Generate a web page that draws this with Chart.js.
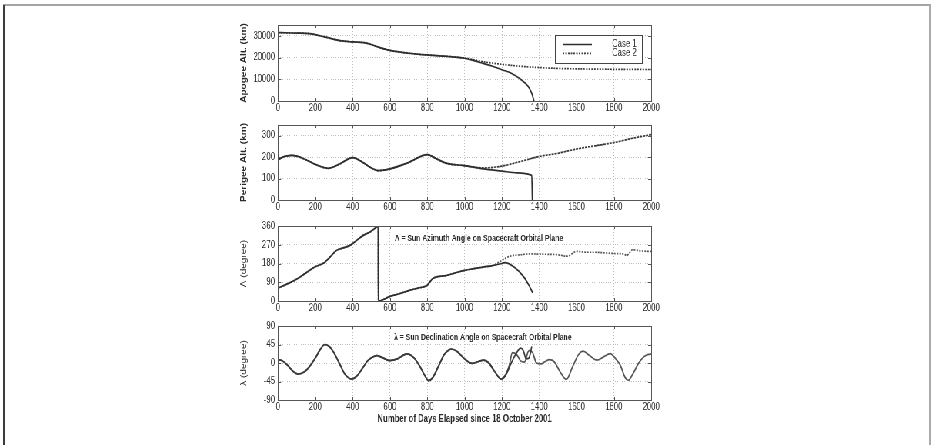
<!DOCTYPE html>
<html>
<head>
<meta charset="utf-8">
<script src="https://cdn.jsdelivr.net/npm/chart.js@4.4.1/dist/chart.umd.min.js"></script>
<style>
  html, body { margin: 0; padding: 0; background: #fff; width: 935px; height: 445px; overflow: hidden; position: relative; }
  .edge { position: absolute; }
  #edgeTop { left: 3px; top: 4px; width: 928px; height: 2px; background: #a4a4a4; }
  #edgeLeft { left: 3px; top: 5px; width: 2px; height: 440px; background: #3c3c3c; }
  #edgeRight { left: 929px; top: 5px; width: 2px; height: 440px; background: #ababab; }
  /* the figure is drawn slightly condensed horizontally */
  #panels { position: absolute; left: 230px; top: 0; width: 570px; height: 445px; transform: scaleX(0.77); transform-origin: 0 0; }
  #panels canvas { position: absolute; left: 0; }
</style>
</head>
<body>
<div class="edge" id="edgeTop"></div>
<div class="edge" id="edgeLeft"></div>
<div class="edge" id="edgeRight"></div>
<div id="panels">
  <canvas id="apogeeChart" width="570" height="100" style="top:15px"></canvas>
  <canvas id="perigeeChart" width="570" height="100" style="top:115px"></canvas>
  <canvas id="azimuthChart" width="570" height="100" style="top:215px"></canvas>
  <canvas id="declinationChart" width="570" height="115" style="top:315px"></canvas>
</div>
<script>
// ---- Day axis ----
const dayTicks = [0, 200, 400, 600, 800, 1000, 1200, 1400, 1600, 1800, 2000];

// ---- Apogee altitude (km): shared history, then the two cases ----
const apogeeTicks = [0, 10000, 20000, 30000];
const apogeeDaysShared = [0, 100, 170, 250, 330, 400, 460, 500, 550, 600, 700, 800, 900, 1000];
const apogeeShared = [31500, 31300, 31000, 29500, 27800, 27200, 26900, 26000, 24500, 23300, 22000, 21200, 20600, 19700];
const apogeeDaysCase1 = [1050, 1100, 1150, 1200, 1250, 1300, 1340, 1360, 1372];
const apogeeCase1 = [18600, 17300, 16000, 14400, 12800, 10000, 6800, 3500, 0];
const apogeeDaysCase2 = [1050, 1100, 1200, 1300, 1400, 1500, 1600, 1800, 2000];
const apogeeCase2 = [19000, 18100, 16900, 16000, 15400, 15000, 14800, 14600, 14500];

// ---- Perigee altitude (km) ----
const perigeeTicks = [0, 100, 200, 300];
const perigeeDaysShared = [0, 25, 75, 150, 200, 270, 330, 400, 450, 500, 540, 600, 700, 800, 850, 900, 1000];
const perigeeShared = [186, 200, 208, 188, 166, 148, 168, 198, 178, 150, 137, 145, 175, 212, 192, 172, 160];
const perigeeDaysCase1 = [1100, 1200, 1280, 1360, 1363];
const perigeeCase1 = [145, 135, 127, 115, 0];
const perigeeDaysCase2 = [1100, 1200, 1300, 1400, 1500, 1600, 1700, 1800, 1900, 2000];
const perigeeCase2 = [150, 158, 180, 203, 218, 238, 253, 268, 288, 305];

// ---- Sun azimuth angle (degree), wraps from 360 back to 0 ----
const azimuthTicks = [0, 90, 180, 270, 360];
const azimuthDaysShared = [0, 50, 99, 150, 197, 248, 278, 314, 350, 386, 422, 457, 493, 529, 537, 537.3, 600, 650, 700, 750, 800, 830, 900, 950, 1000, 1050, 1100, 1150];
const azimuthShared = [62, 82, 104, 135, 163, 184, 210, 243, 255, 267, 291, 315, 331, 355, 360, 0, 22, 35, 50, 62, 76, 108, 122, 135, 147, 155, 163, 170];
const azimuthDaysCase1 = [1200, 1215, 1265, 1318, 1345, 1365];
const azimuthCase1 = [180, 184, 163, 115, 75, 40];
const azimuthDaysCase2 = [1200, 1240, 1300, 1350, 1400, 1450, 1500, 1550, 1600, 1650, 1700, 1750, 1800, 1850, 1870, 1900, 1950, 2000];
const azimuthCase2 = [195, 214, 222, 226, 225, 224, 222, 215, 238, 234, 234, 231, 228, 226, 219, 246, 240, 238];

// ---- Sun declination angle (degree) ----
const declinationTicks = [-90, -45, 0, 45, 90];
const declinationDaysShared = [0, 20, 50, 80, 108, 140, 170, 200, 225, 251, 275, 300, 330, 360, 395, 420, 450, 480, 505, 529, 560, 597, 640, 690, 730, 760, 790, 807, 830, 860, 890, 910, 929, 960, 1000, 1040, 1070, 1103, 1130, 1160, 1196];
const declinationShared = [8, 6, -5, -20, -27, -22, -8, 12, 32, 45, 40, 25, -2, -28, -39, -33, -15, 5, 14, 18, 13, 6, 10, 22, 12, -8, -33, -43, -35, -8, 20, 30, 34, 28, 10, -1, 3, 7, 0, -20, -39];
const declinationDaysCase1 = [1220, 1250, 1275, 1300, 1315, 1330, 1345, 1360];
const declinationCase1 = [-30, 0, 22, 36, 30, 10, 12, 40];
const declinationDaysCase2 = [1220, 1240, 1256, 1280, 1300, 1320, 1345, 1365, 1385, 1410, 1430, 1455, 1480, 1510, 1545, 1580, 1610, 1635, 1670, 1709, 1745, 1780, 1810, 1834, 1860, 1878, 1900, 1932, 1960, 1986, 2000];
const declinationCase2 = [-28, -5, 25, 20, 5, 2, 30, 25, 0, -2, 3, 8, 3, -20, -40, -8, 20, 29, 18, 7, 15, 23, 10, -5, -35, -42, -28, -1, 15, 21, 22];

const caseLabels = ['Case 1', 'Case 2'];

// ---- styling ----
const FONT = "'Liberation Sans', Arial, Helvetica, sans-serif";
const INK = '#2a2a2a';
const GRID = '#bdbdbd';
const AXIS_W = 62.3;   // y-axis band width (logical px)

function points(days, values) {
  return days.map((d, i) => ({ x: d, y: values[i] }));
}
function joined(daysA, valsA, daysB, valsB) {
  return points(daysA.concat(daysB), valsA.concat(valsB));
}

// box around each plot area, legend and in-plot notes
const panelDecor = {
  id: 'panelDecor',
  afterDatasetsDraw(chart, args, opts) {
    const ctx = chart.ctx;
    const a = chart.chartArea;
    ctx.save();
    ctx.strokeStyle = '#555';
    ctx.lineWidth = 1;
    ctx.setLineDash([]);
    ctx.strokeRect(Math.round(a.left) + 0.5, Math.round(a.top) + 0.5, Math.round(a.width), Math.round(a.height));
    // short inward tick marks on all four sides
    const xs = chart.scales.x, ys = chart.scales.y;
    ctx.beginPath();
    xs.ticks.forEach(t => {
      const px = Math.round(xs.getPixelForValue(t.value)) + 0.5;
      ctx.moveTo(px, a.bottom); ctx.lineTo(px, a.bottom - 3);
      ctx.moveTo(px, a.top); ctx.lineTo(px, a.top + 3);
    });
    ys.ticks.forEach(t => {
      const py = Math.round(ys.getPixelForValue(t.value)) + 0.5;
      ctx.moveTo(a.left, py); ctx.lineTo(a.left + 4, py);
      ctx.moveTo(a.right, py); ctx.lineTo(a.right - 4, py);
    });
    ctx.stroke();

    if (opts.note) {
      ctx.fillStyle = INK;
      ctx.font = 'bold 9px ' + FONT;
      ctx.textAlign = 'left';
      ctx.textBaseline = 'middle';
      ctx.fillText(opts.note, opts.noteX, opts.noteY);
    }
    if (opts.legend) {
      const L = opts.legend;
      ctx.fillStyle = '#fff';
      ctx.fillRect(L.x, L.y, L.w, L.h);
      ctx.strokeStyle = '#444';
      ctx.strokeRect(L.x + 0.5, L.y + 0.5, L.w, L.h);
      chart.data.datasets.slice().sort((p, q) => p.order - q.order).forEach((ds, i) => {
        const yy = L.rowY[i];
        ctx.strokeStyle = ds.borderColor;
        ctx.lineWidth = ds.borderWidth;
        ctx.setLineDash(ds.borderDash || []);
        ctx.beginPath();
        ctx.moveTo(L.lineX0, yy); ctx.lineTo(L.lineX1, yy);
        ctx.stroke();
        ctx.setLineDash([]);
        ctx.fillStyle = INK;
        ctx.font = '10px ' + FONT;
        ctx.textAlign = 'right';
        ctx.textBaseline = 'middle';
        ctx.fillText(ds.label, L.textRight, yy);
      });
    }
    ctx.restore();
  }
};

function makePanel(id, spec) {
  const datasets = [
    {
      label: caseLabels[0],
      data: joined(spec.sharedDays, spec.shared, spec.days1, spec.vals1),
      borderColor: spec.color1 || '#2e2e2e',
      borderWidth: 1.7,
      order: 1
    },
    {
      label: caseLabels[1],
      data: joined(spec.sharedDays, spec.shared, spec.days2, spec.vals2),
      borderColor: spec.color2 || '#4a4a4a',
      borderWidth: 1.7,
      borderDash: spec.dash2 || [],
      order: 2
    }
  ].map(d => Object.assign(d, { showLine: true, pointRadius: 0, cubicInterpolationMode: 'monotone', fill: false }));

  const tickFont = { family: FONT, size: 10 };
  return new Chart(document.getElementById(id), {
    type: 'scatter',
    data: { datasets },
    options: {
      responsive: false,
      animation: false,
      devicePixelRatio: 1,
      layout: { padding: { left: 0, right: 23, top: spec.padTop, bottom: 0 } },
      plugins: {
        legend: { display: false },
        tooltip: { enabled: false },
        panelDecor: spec.decor || {}
      },
      scales: {
        x: {
          type: 'linear', min: 0, max: 2000,
          afterBuildTicks: s => { s.ticks = dayTicks.map(v => ({ value: v })); },
          afterFit: s => { s.height = spec.xHeight; },
          grid: { color: GRID, lineWidth: 1, drawTicks: false },
          border: { display: false, dash: [1, 2] },
          ticks: { padding: 1, font: tickFont, color: INK, maxRotation: 0, autoSkip: false, callback: v => String(v) },
          title: spec.xTitle ? { display: true, text: spec.xTitle, color: INK, font: { family: FONT, size: 10, weight: 'bold' }, padding: { top: 0, bottom: 5 } } : { display: false }
        },
        y: {
          type: 'linear', min: spec.yMin, max: spec.yMax,
          afterBuildTicks: s => { s.ticks = spec.yTicks.map(v => ({ value: v })); },
          afterFit: s => { s.width = AXIS_W; },
          grid: { color: GRID, lineWidth: 1, drawTicks: false },
          border: { display: false, dash: [1, 2] },
          ticks: { padding: 4, font: tickFont, color: INK, autoSkip: false, callback: v => String(v) },
          title: { display: true, text: spec.yTitle, color: INK, font: { family: FONT, size: 10, weight: spec.yTitleBold ? 'bold' : 'normal' }, padding: { top: 12, bottom: 0 } }
        }
      }
    },
    plugins: [panelDecor]
  });
}

makePanel('apogeeChart', {
  sharedDays: apogeeDaysShared, shared: apogeeShared,
  days1: apogeeDaysCase1, vals1: apogeeCase1,
  days2: apogeeDaysCase2, vals2: apogeeCase2,
  dash2: [2, 1.5], color2: '#3c3c3c',
  yMin: 0, yMax: 35000, yTicks: apogeeTicks,
  yTitle: 'Apogee Alt. (km)', yTitleBold: true,
  padTop: 10, xHeight: 14,
  decor: {
    legend: { x: 422, y: 20, w: 113, h: 28, lineX0: 432, lineX1: 470, textRight: 528, rowY: [29.5, 38.3] }
  }
});

makePanel('perigeeChart', {
  sharedDays: perigeeDaysShared, shared: perigeeShared,
  days1: perigeeDaysCase1, vals1: perigeeCase1,
  days2: perigeeDaysCase2, vals2: perigeeCase2,
  dash2: [3, 1], color2: '#3a3a3a',
  yMin: 0, yMax: 350, yTicks: perigeeTicks,
  yTitle: 'Perigee Alt. (km)', yTitleBold: true,
  padTop: 10, xHeight: 15
});

makePanel('azimuthChart', {
  sharedDays: azimuthDaysShared, shared: azimuthShared,
  days1: azimuthDaysCase1, vals1: azimuthCase1,
  days2: azimuthDaysCase2, vals2: azimuthCase2,
  dash2: [2, 1.5], color2: '#555',
  yMin: 0, yMax: 360, yTicks: azimuthTicks,
  yTitle: 'Λ (degree)', yTitleBold: false,
  padTop: 11, xHeight: 14,
  decor: { note: 'Λ = Sun Azimuth Angle on Spacecraft Orbital Plane', noteX: 214, noteY: 24 }
});

makePanel('declinationChart', {
  sharedDays: declinationDaysShared, shared: declinationShared,
  days1: declinationDaysCase1, vals1: declinationCase1,
  days2: declinationDaysCase2, vals2: declinationCase2,
  color1: '#3a3a3a', color2: '#555',
  yMin: -90, yMax: 90, yTicks: declinationTicks,
  yTitle: 'λ (degree)', yTitleBold: false,
  padTop: 11, xHeight: 30,
  xTitle: 'Number of Days Elapsed since 18 October 2001',
  decor: { note: 'λ = Sun Declination Angle on Spacecraft Orbital Plane', noteX: 213, noteY: 23 }
});
</script>
</body>
</html>
